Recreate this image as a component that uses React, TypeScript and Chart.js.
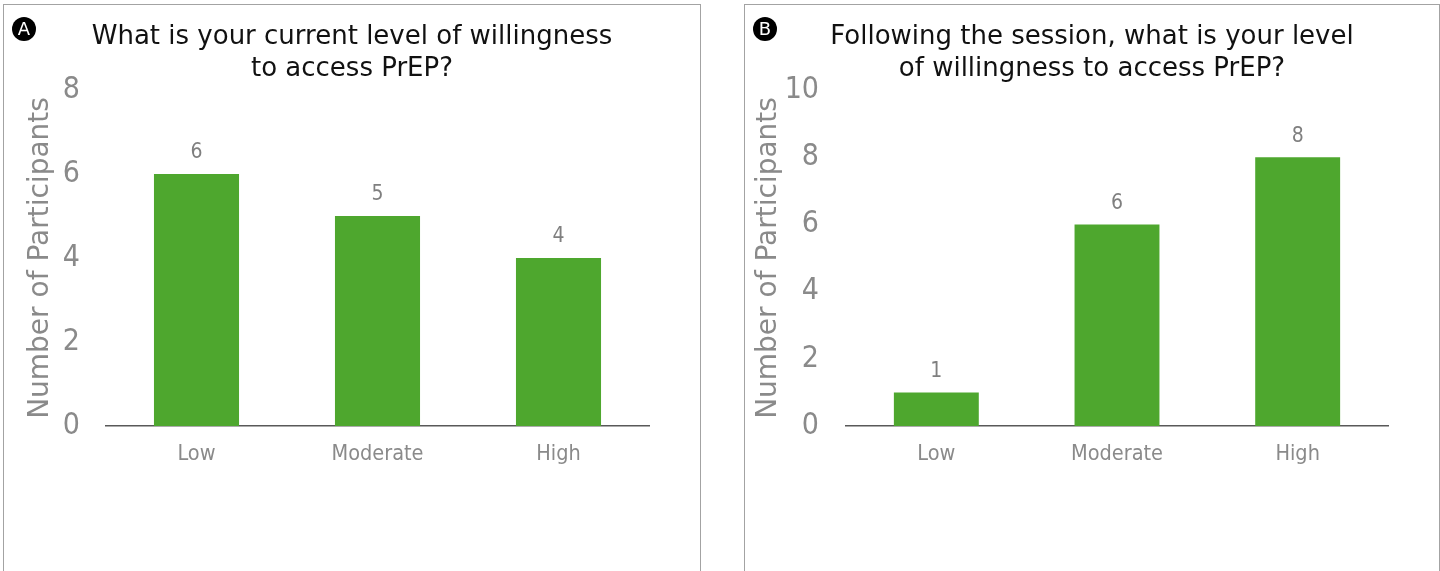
import React, { useEffect, useRef } from "react";
import { Chart, registerables } from "chart.js";

Chart.register(...registerables);

// Response categories shared by both panels
const categories = ["Low", "Moderate", "High"];

// Participant counts per willingness level
const currentWillingness = [6, 5, 4];
const afterSessionWillingness = [1, 6, 8];

// Panel headings
const panelATitle = ["What is your current level of willingness", "to access PrEP?"];
const panelBTitle = ["Following the session, what is your level", "of willingness to access PrEP?"];

// Value axis settings
const panelAMax = 8;
const panelBMax = 10;
const tickStep = 2;
const yAxisTitle = "Number of Participants";

const BAR_GREEN = "rgb(78,167,46)";
const AXIS_GREY = "#8a8a8a";
const LABEL_GREY = "#7f7f7f";
const NARROW = "'DejaVu Sans Condensed', 'Liberation Sans Narrow', 'DejaVu Sans', sans-serif";
const WIDE = "'DejaVu Sans', sans-serif";

const VIEW_H = 571;

// Writes each bar's value just above it
const valueLabels = {
  id: "valueLabels",
  afterDatasetsDraw(chart: any) {
    const { ctx } = chart;
    const meta = chart.getDatasetMeta(0);
    const values = chart.data.datasets[0].data as number[];
    ctx.save();
    ctx.font = `21px ${NARROW}`;
    ctx.fillStyle = LABEL_GREY;
    ctx.textAlign = "center";
    ctx.textBaseline = "middle";
    meta.data.forEach((bar: any, i: number) => {
      ctx.fillText(String(values[i]), bar.x, bar.y - 21);
    });
    ctx.restore();
  },
};

type PanelProps = {
  left: number;
  width: number;
  badge: string;
  title: string[];
  values: number[];
  yMax: number;
  rightPad: number;
  yWidth: number;
  tickPad: number;
  yTitlePad: number;
};

function Panel(p: PanelProps) {
  const ref = useRef<HTMLCanvasElement | null>(null);

  useEffect(() => {
    if (!ref.current) return;
    const chart = new Chart(ref.current, {
      type: "bar",
      data: {
        labels: categories,
        datasets: [
          {
            data: p.values,
            backgroundColor: BAR_GREEN,
            borderWidth: 0,
            barPercentage: 0.47,
            categoryPercentage: 1,
          },
        ],
      },
      options: {
        responsive: false,
        animation: false,
        layout: { padding: { top: 90, right: p.rightPad, bottom: 0, left: 0 } },
        plugins: {
          legend: { display: false },
          tooltip: { enabled: false },
          title: { display: false },
        },
        scales: {
          x: {
            grid: { display: false, drawTicks: false },
            border: { display: true, color: "#595959", width: 1.5 },
            ticks: {
              color: AXIS_GREY,
              font: { family: NARROW, size: 21.5, lineHeight: 1 },
              padding: 18,
            },
            afterFit: (s: any) => {
              s.height = VIEW_H - 426;
            },
          },
          y: {
            min: 0,
            max: p.yMax,
            grid: { display: false, drawTicks: false },
            border: { display: false },
            ticks: {
              stepSize: tickStep,
              color: AXIS_GREY,
              font: { family: NARROW, size: 30 },
              padding: p.tickPad,
            },
            title: {
              display: true,
              text: yAxisTitle,
              color: AXIS_GREY,
              font: { family: WIDE, size: 28, lineHeight: 1 },
              padding: { top: p.yTitlePad, bottom: 0 },
            },
            afterFit: (s: any) => {
              s.width = p.yWidth;
            },
          },
        },
      },
      plugins: [valueLabels],
    });
    return () => chart.destroy();
  }, []);

  return (
    <>
      <canvas
        ref={ref}
        width={p.width}
        height={VIEW_H}
        style={{ position: "absolute", left: p.left, top: 0, width: p.width, height: VIEW_H }}
      />
      <div
        style={{
          position: "absolute",
          left: p.left,
          top: 4,
          width: p.width,
          height: 620,
          border: "1.5px solid #a3a3a3",
          boxSizing: "border-box",
        }}
      />
      <div
        style={{
          position: "absolute",
          left: p.left,
          top: 19,
          width: p.width,
          textAlign: "center",
          fontFamily: WIDE,
          fontSize: 26,
          lineHeight: "32px",
          color: "#111",
        }}
      >
        {p.title.map((line, i) => (
          <div key={i}>{line}</div>
        ))}
      </div>
      <div
        style={{
          position: "absolute",
          left: p.left + 9,
          top: 17,
          width: 24,
          height: 24,
          borderRadius: "50%",
          background: "#000",
          color: "#fff",
          fontFamily: WIDE,
          fontSize: 18,
          lineHeight: "24px",
          textAlign: "center",
        }}
      >
        {p.badge}
      </div>
    </>
  );
}

export default function App() {
  return (
    <div
      style={{
        position: "absolute",
        left: 0,
        top: 0,
        width: 1440,
        height: VIEW_H,
        overflow: "hidden",
        background: "#fff",
      }}
    >
      <Panel
        left={3}
        width={698}
        badge="A"
        title={panelATitle}
        values={currentWillingness}
        yMax={panelAMax}
        rightPad={52}
        yWidth={103}
        tickPad={26}
        yTitlePad={24}
      />
      <Panel
        left={744}
        width={696}
        badge="B"
        title={panelBTitle}
        values={afterSessionWillingness}
        yMax={panelBMax}
        rightPad={52}
        yWidth={102}
        tickPad={27}
        yTitlePad={11}
      />
    </div>
  );
}
